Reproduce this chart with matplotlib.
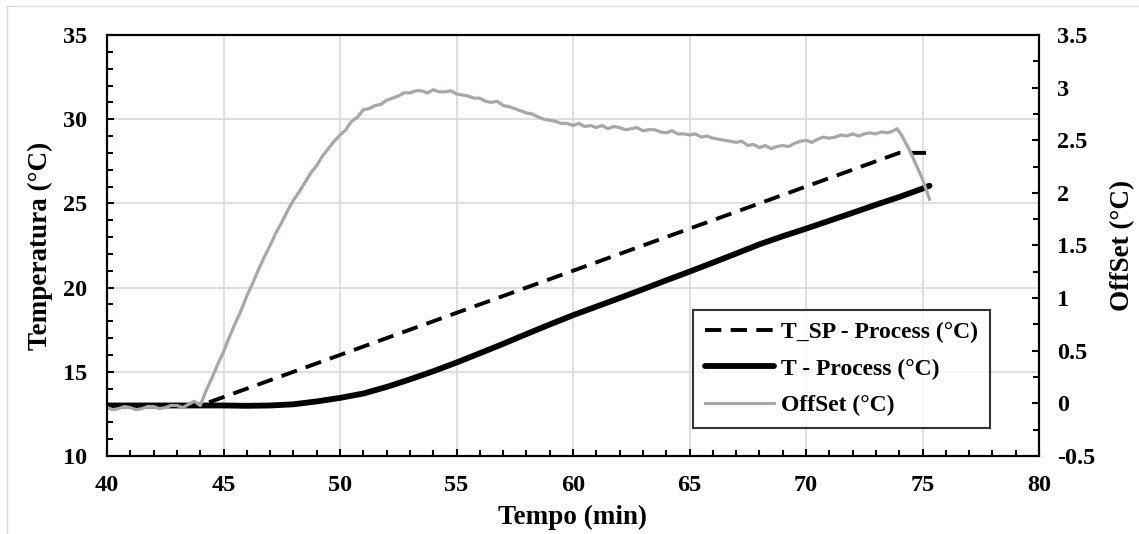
import numpy as np
from matplotlib import pyplot as plt
from matplotlib.ticker import MultipleLocator, FuncFormatter
from matplotlib.lines import Line2D

# data
t_sp = [40, 44, 74, 75.3]
sp_process = [13, 13, 28, 28]

t_proc = [40, 41, 42, 43, 44, 45, 46, 47, 48, 49, 50, 51, 52, 53, 54, 55, 56, 57,
          58, 59, 60, 61, 62, 63, 64, 65, 66, 67, 68, 69, 70, 71, 72, 73, 74, 75, 75.3]
t_process = [13.0, 13.0, 13.0, 13.0, 13.0, 13.0, 12.98, 13.0, 13.07, 13.24, 13.45,
             13.71, 14.1, 14.55, 15.03, 15.55, 16.1, 16.66, 17.24, 17.81, 18.36,
             18.87, 19.38, 19.9, 20.43, 20.95, 21.48, 22.02, 22.57, 23.05, 23.5,
             23.97, 24.44, 24.92, 25.38, 25.88, 26.05]

# offset, every 0.25 min from 40 to 73.75, then the tail
t_off = list(np.arange(40, 73.8, 0.25)) + [73.9, 74.1, 74.5, 75, 75.3]
offset = [-0.04, -0.06, -0.05, -0.03,
          -0.04, -0.06, -0.05, -0.03,
          -0.03, -0.05, -0.04, -0.02,
          -0.02, -0.04, -0.01, 0.02,
          -0.02, 0.12, 0.24, 0.37,
          0.49, 0.63, 0.76, 0.88,
          1.02, 1.14, 1.27, 1.39,
          1.5, 1.62, 1.72, 1.83,
          1.93, 2.01, 2.1, 2.19,
          2.26, 2.35, 2.42, 2.49,
          2.55, 2.6, 2.68, 2.72,
          2.79, 2.8, 2.83, 2.84,
          2.88, 2.9, 2.92, 2.95,
          2.95, 2.97, 2.97, 2.95,
          2.98, 2.96, 2.96, 2.97,
          2.94, 2.93, 2.92, 2.9,
          2.9, 2.87, 2.86, 2.87,
          2.83, 2.82, 2.8, 2.78,
          2.76, 2.75, 2.72, 2.7,
          2.69, 2.68, 2.66, 2.66,
          2.64, 2.66, 2.63, 2.64,
          2.62, 2.64, 2.61, 2.63,
          2.62, 2.6, 2.61, 2.62,
          2.59, 2.6, 2.6, 2.58,
          2.57, 2.59, 2.56, 2.56,
          2.55, 2.56, 2.53, 2.54,
          2.52, 2.51, 2.5, 2.49,
          2.48, 2.49, 2.45, 2.46,
          2.43, 2.45, 2.42, 2.44,
          2.45, 2.44, 2.47, 2.49,
          2.5, 2.48, 2.51, 2.53,
          2.52, 2.53, 2.55, 2.54,
          2.56, 2.54, 2.56, 2.57,
          2.56, 2.58, 2.57, 2.59,
          2.61, 2.55, 2.38, 2.13, 1.94]

plt.rcParams['font.family'] = ['Liberation Serif', 'DejaVu Serif']
plt.rcParams['font.weight'] = 'bold'
plt.rcParams['axes.unicode_minus'] = False

fig = plt.figure(figsize=(11.39, 5.34), dpi=100)
ax = fig.add_axes([107 / 1139, 1 - 456 / 534, 932 / 1139, 421 / 534])
ax2 = ax.twinx()

# outer chart border (light grey)
fig.add_artist(Line2D([7 / 1139, 1.0], [1 - 6 / 534, 1 - 6 / 534], color='#d9d9d9', lw=1))
fig.add_artist(Line2D([7 / 1139, 7 / 1139], [0, 1 - 6 / 534], color='#d9d9d9', lw=1))

l1, = ax.plot(t_sp, sp_process, color='black', lw=2.8, dashes=(4.2, 2.4),
              label='T_SP - Process (°C)')
l2, = ax.plot(t_proc, t_process, color='black', lw=4.2, solid_capstyle='round',
              label='T - Process (°C)')
l3, = ax2.plot(t_off, offset, color='#aaa6a6', lw=2.3, label='OffSet (°C)')

ax.set_xlim(40, 80)
ax.set_ylim(10, 35)
ax2.set_ylim(-0.5, 3.5)

ax.xaxis.set_major_locator(MultipleLocator(5))
ax.xaxis.set_minor_locator(MultipleLocator(1))
ax.yaxis.set_major_locator(MultipleLocator(5))
ax.yaxis.set_minor_locator(MultipleLocator(1))
ax2.yaxis.set_major_locator(MultipleLocator(0.5))
ax2.yaxis.set_minor_locator(MultipleLocator(0.25))
ax2.yaxis.set_major_formatter(FuncFormatter(lambda v, p: '%g' % v))

ax.grid(True, which='major', color='#d9d9d9', lw=1.2)
ax.set_axisbelow(True)

for a in (ax, ax2):
    for s in a.spines.values():
        s.set_linewidth(1.5)
ax.tick_params(axis='both', which='major', direction='in', length=5, width=1.5,
               labelsize=17.5, pad=14)
ax.tick_params(axis='both', which='minor', direction='in', length=4, width=1.5)
ax2.tick_params(axis='y', which='major', direction='in', length=5, width=1.5,
                labelsize=17.5, pad=13)
ax2.tick_params(axis='y', which='minor', direction='in', length=4, width=1.5)

ax.set_xlabel('Tempo (min)', fontsize=19.5, fontweight='bold')
ax.set_ylabel('Temperatura (°C)', fontsize=19.5, fontweight='bold')
ax2.set_ylabel('OffSet (°C)', fontsize=19.5, fontweight='bold')
ax.xaxis.set_label_coords(0.5, -0.115)
ax.yaxis.set_label_coords(-0.058, 0.5)
ax2.yaxis.set_label_coords(1.076, 0.5)

leg = ax2.legend(handles=[l1, l2, l3], loc='lower right', bbox_to_anchor=(0.947, 0.0665),
                 fontsize=17, frameon=True, fancybox=False, edgecolor='black',
                 handlelength=2.9, handletextpad=0.3, labelspacing=0.64,
                 borderpad=0.5, borderaxespad=0)
leg.get_frame().set_linewidth(1.5)

fig.savefig('out.png', dpi=100)
